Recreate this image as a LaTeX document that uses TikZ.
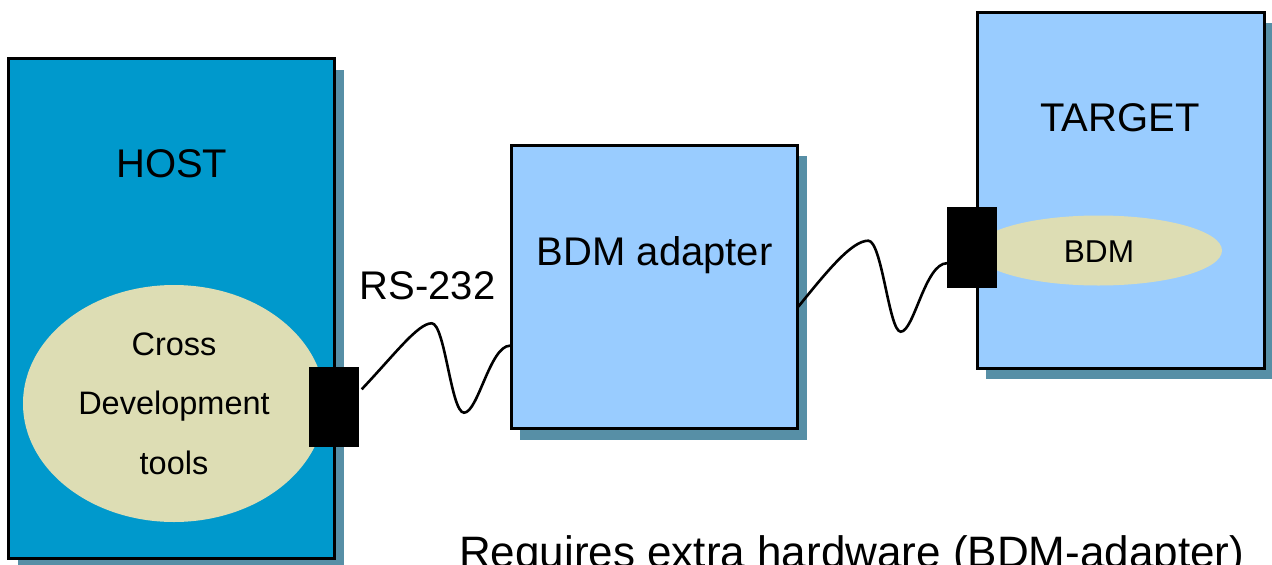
\documentclass[tikz,border=0pt]{standalone}
\usepackage{fontspec}
\setmainfont{Liberation Sans}
\usetikzlibrary{shadows,shapes.geometric}
\definecolor{hostblue}{RGB}{0,153,204}
\definecolor{lightblue}{RGB}{153,204,255}
\definecolor{shadowc}{RGB}{87,143,166}
\definecolor{ellfill}{RGB}{221,221,180}
\begin{document}
\begin{tikzpicture}[x=1pt,y=-1pt,
  box/.style={rectangle, draw=black, line width=3pt, inner sep=0pt, outer sep=0pt,
    general shadow={fill=shadowc, shadow xshift=9pt, shadow yshift=-11pt}},
  blob/.style={ellipse, fill=ellfill, inner sep=0pt, outer sep=0pt},
  plug/.style={rectangle, fill=black, inner sep=0pt, outer sep=0pt, minimum width=50pt},
  cable/.style={line width=2.6pt, black},
  bigtxt/.style={font=\fontsize{40}{48}\selectfont, inner sep=0pt, anchor=base},
  smalltxt/.style={font=\fontsize{32.5}{59.3}\selectfont, inner sep=0pt, anchor=base}
]
\clip (0,0) rectangle (1272,565);
\fill[white] (0,0) rectangle (1272,565);

% boxes
\node[box, fill=hostblue, minimum width=326pt, minimum height=499.5pt] (host) at (171.5,308.3) {};
\node[blob, minimum width=302pt, minimum height=237pt] (tools) at (174,403.5) {};
\node[box, fill=lightblue, minimum width=286.2pt, minimum height=283.4pt] (adapter) at (654.4,287) {};
\node[box, fill=lightblue, minimum width=287pt, minimum height=355.8pt] (target) at (1120.5,190.1) {};
\node[blob, minimum width=247pt, minimum height=70pt] (bdm) at (1098.5,250.5) {};

% plugs
\node[plug, minimum height=79.5pt] (plug1) at (334.2,407.2) {};
\node[plug, minimum height=81pt] (plug2) at (971.7,247.2) {};

% cables
\draw[cable] ([shift={(2.5,-17.9)}]plug1.east)
  .. controls (395,354) and (418,323.3) .. (431.7,323.3)
  .. controls (445,323.3) and (451,412.7) .. (464,412.7)
  .. controls (478,412.7) and (490,345.7) .. ([shift={(-1.3,58.7)}]adapter.west);
\draw[cable] ([shift={(0.8,19.7)}]adapter.east)
  .. controls (828,270) and (852,240.7) .. (868.3,240.7)
  .. controls (882,240.7) and (889,331.7) .. (900.7,331.7)
  .. controls (914,331.7) and (925,263.3) .. ([shift={(0.3,16)}]plug2.west);

% labels
\node[bigtxt] (hostlbl) at (171.7,177.7) {HOST};
\node[bigtxt] (rslbl) at (427.5,299.3) {RS-232};
\node[bigtxt] (adlbl) at (654.7,265) {BDM adapter};
\node[bigtxt] (tglbl) at (1120,131.7) {TARGET};
\node[smalltxt, font=\fontsize{31.6}{38}\selectfont] (bdmlbl) at (1099,262.3) {BDM};
\node[smalltxt, align=center] (toolslbl) at (174,474) {Cross\\Development\\tools};
\node[font=\fontsize{44}{52}\selectfont, inner sep=0pt, anchor=base west] (note) at (459,567) {Requires extra hardware (BDM-adapter)};
\end{tikzpicture}
\end{document}
